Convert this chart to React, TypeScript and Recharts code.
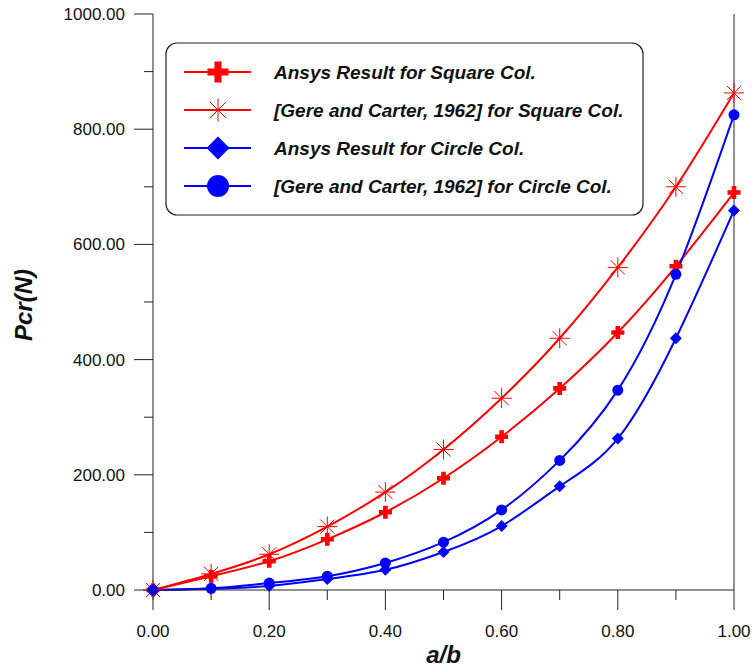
import { LineChart, Line, XAxis, YAxis, Legend, ReferenceLine, Label } from "recharts";

// a/b ratio on the x axis
const AB = [0, 0.1, 0.2, 0.3, 0.4, 0.5, 0.6, 0.7, 0.8, 0.9, 1.0];

// Pcr(N) values
const ANSYS_SQUARE = [0, 24, 50, 88, 135, 194, 266, 350, 447, 562, 690];
const GERE_SQUARE = [0, 28, 62, 110, 170, 244, 333, 437, 560, 700, 863];
const ANSYS_CIRCLE = [0, 2, 7, 19, 35, 66, 111, 180, 263, 437, 659];
const GERE_CIRCLE = [0, 3, 12, 24, 47, 83, 139, 225, 347, 548, 825];

const X_TICKS = [0, 0.1, 0.2, 0.3, 0.4, 0.5, 0.6, 0.7, 0.8, 0.9, 1.0];
const Y_TICKS = [0, 100, 200, 300, 400, 500, 600, 700, 800, 900, 1000];

const RED = '#ff0000';
const BLUE = '#0000ff';
const AXIS = '#222';
const FONT = '"Liberation Sans", Arial, sans-serif';

type MarkerKind = 'plus' | 'star' | 'diamond' | 'circle';

const SERIES: { key: string; name: string; color: string; marker: MarkerKind; values: number[] }[] = [
  { key: 'ansysSquare', name: 'Ansys Result for Square Col.', color: RED, marker: 'plus', values: ANSYS_SQUARE },
  { key: 'gereSquare', name: '[Gere and Carter, 1962] for Square Col.', color: RED, marker: 'star', values: GERE_SQUARE },
  { key: 'ansysCircle', name: 'Ansys Result for Circle Col.', color: BLUE, marker: 'diamond', values: ANSYS_CIRCLE },
  { key: 'gereCircle', name: '[Gere and Carter, 1962] for Circle Col.', color: BLUE, marker: 'circle', values: GERE_CIRCLE },
];

const data = AB.map((ab, i) => {
  const row: Record<string, number> = { ab };
  SERIES.forEach((s) => { row[s.key] = s.values[i]; });
  return row;
});

function Marker({ kind, cx, cy, big }: { kind: MarkerKind; cx: number; cy: number; big?: boolean }) {
  if (kind === 'plus') {
    const a = big ? 10.5 : 6.5;
    const t = big ? 3.5 : 2.3;
    return (
      <path
        d={`M${cx - a},${cy - t}h${2 * a}v${2 * t}h${-2 * a}z M${cx - t},${cy - a}h${2 * t}v${2 * a}h${-2 * t}z`}
        fill={RED}
      />
    );
  }
  if (kind === 'star') {
    const r = big ? 11.5 : 10;
    const d = r * Math.SQRT1_2;
    return (
      <g stroke={RED} strokeWidth={1} fill="none">
        <line x1={cx - r} y1={cy} x2={cx + r} y2={cy} />
        <line x1={cx} y1={cy - r} x2={cx} y2={cy + r} />
        <line x1={cx - d} y1={cy - d} x2={cx + d} y2={cy + d} />
        <line x1={cx - d} y1={cy + d} x2={cx + d} y2={cy - d} />
      </g>
    );
  }
  if (kind === 'diamond') {
    const h = big ? 11.5 : 6;
    return <path d={`M${cx},${cy - h}L${cx + h},${cy}L${cx},${cy + h}L${cx - h},${cy}z`} fill={BLUE} />;
  }
  return <circle cx={cx} cy={cy} r={big ? 11 : 5.5} fill={BLUE} />;
}

function XTick({ x, y, payload }: any) {
  const v = payload.value as number;
  const major = Math.round(v * 10) % 2 === 0;
  return (
    <g>
      <line x1={x} x2={x} y1={y} y2={y + (major ? 20 : 10)} stroke={AXIS} />
      {major && (
        <text x={x} y={y + 47} textAnchor="middle" fontSize={17} fontFamily={FONT} fill="#111">
          {v.toFixed(2)}
        </text>
      )}
    </g>
  );
}

function YTick({ x, y, payload }: any) {
  const v = payload.value as number;
  const major = v % 200 === 0;
  return (
    <g>
      <line x1={x - (major ? 19 : 9)} x2={x} y1={y} y2={y} stroke={AXIS} />
      {major && (
        <text x={x - 28} y={y} dy={6} textAnchor="end" fontSize={17} fontFamily={FONT} fill="#111">
          {v.toFixed(2)}
        </text>
      )}
    </g>
  );
}

function LegendBox() {
  return (
    <svg width={480} height={175} style={{ display: 'block' }}>
      <rect x={1} y={1} width={477} height={172} rx={11} fill="#fff" stroke={AXIS} strokeWidth={1.2} />
      {SERIES.map((s, i) => {
        const cy = 30 + i * 38;
        return (
          <g key={s.key}>
            <line x1={19} x2={86} y1={cy} y2={cy} stroke={s.color} strokeWidth={2} />
            <Marker kind={s.marker} cx={53} cy={cy} big />
            <text
              x={109}
              y={cy}
              dy={7}
              fontSize={19}
              fontWeight="bold"
              fontStyle="italic"
              fontFamily={FONT}
              fill="#111"
            >
              {s.name}
            </text>
          </g>
        );
      })}
    </svg>
  );
}

export default function App() {
  return (
    <div style={{ position: 'absolute', left: 0, top: 0, width: 752, height: 670, background: '#fff' }}>
      <LineChart width={752} height={670} data={data} margin={{ top: 14, right: 18, left: 93, bottom: 20 }}>
        <XAxis
          dataKey="ab"
          type="number"
          domain={[0, 1]}
          ticks={X_TICKS}
          interval={0}
          height={60}
          tickSize={0}
          tickMargin={0}
          tickLine={false}
          axisLine={{ stroke: AXIS }}
          tick={<XTick />}
        >
          <Label
            content={({ viewBox }: any) => (
              <text
                x={viewBox.x + viewBox.width / 2}
                y={viewBox.y + viewBox.height + 13}
                textAnchor="middle"
                fontSize={24}
                fontWeight="bold"
                fontStyle="italic"
                fontFamily={FONT}
                fill="#111"
              >
                a/b
              </text>
            )}
          />
        </XAxis>
        <YAxis
          type="number"
          domain={[0, 1000]}
          ticks={Y_TICKS}
          interval={0}
          width={60}
          tickSize={0}
          tickMargin={0}
          tickLine={false}
          axisLine={{ stroke: AXIS }}
          tick={<YTick />}
        >
          <Label
            content={({ viewBox }: any) => {
              const lx = viewBox.x - 61;
              const ly = viewBox.y + viewBox.height / 2 + 3;
              return (
                <text
                  x={lx}
                  y={ly}
                  transform={`rotate(-90, ${lx}, ${ly})`}
                  textAnchor="middle"
                  fontSize={24}
                  fontWeight="bold"
                  fontStyle="italic"
                  fontFamily={FONT}
                  fill="#111"
                >
                  Pcr(N)
                </text>
              );
            }}
          />
        </YAxis>
        <ReferenceLine x={1} stroke={AXIS} strokeWidth={1} />
        <Legend
          layout="horizontal"
          verticalAlign="middle"
          align="center"
          content={() => <LegendBox />}
          wrapperStyle={{ left: 165, top: 42, width: 480, height: 175 }}
        />
        {SERIES.map((s) => (
          <Line
            key={s.key}
            dataKey={s.key}
            name={s.name}
            type="natural"
            stroke={s.color}
            strokeWidth={2}
            isAnimationActive={false}
            activeDot={false}
            dot={(p: any) => <Marker key={`${s.key}-${p.index}`} kind={s.marker} cx={p.cx} cy={p.cy} />}
          />
        ))}
      </LineChart>
    </div>
  );
}
